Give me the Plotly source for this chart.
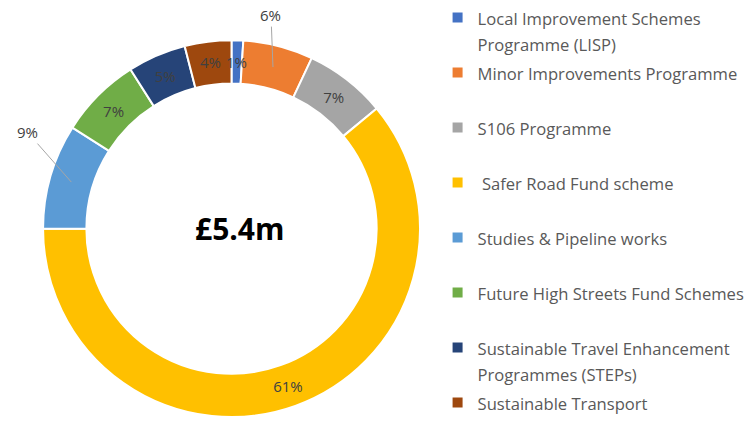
import math
import plotly.graph_objects as go

# Programme budget split (share of £5.4m, %)
categories = [
    "Local Improvement Schemes<br>Programme (LISP)",
    "Minor Improvements Programme",
    "S106 Programme",
    " Safer Road Fund scheme",
    "Studies & Pipeline works",
    "Future High Streets Fund Schemes",
    "Sustainable Travel Enhancement<br>Programmes (STEPs)",
    "Sustainable Transport",
]
shares = [1, 6, 7, 61, 9, 7, 5, 4]
colors = ["#4472C4", "#ED7D31", "#A5A5A5", "#FFC000",
          "#5B9BD5", "#70AD47", "#264478", "#9E480E"]
# slices whose value label sits outside the ring on a leader line (text offset, px)
callouts = {1: (-2, -52), 4: (-44, -50)}
# slices too thin for plotly's inside text: label placed at the ring's mid radius
free_labels = {0}
total_label = "£5.4m"

W, H = 748, 423
dom_x = [0.056, 0.563]
dom_y = [0.014, 0.905]
hole = 0.77
label_font = dict(family="Open Sans", size=15, color="#404040")

# every legend entry spans two lines so the entries are evenly spaced
legend_names = [
    "<span style='font-size:16.6px'>" + (c if "<br>" in c else c + "<br>&nbsp;") + "</span>"
    for c in categories
]

fig = go.Figure(go.Pie(
    labels=legend_names,
    values=shares,
    sort=False,
    direction="clockwise",
    rotation=0,
    hole=hole,
    marker=dict(colors=colors, line=dict(color="white", width=2)),
    texttemplate="%{value}%",
    textposition=["none" if (i in callouts or i in free_labels) else "inside"
                  for i in range(len(shares))],
    insidetextorientation="horizontal",
    textfont=label_font,
    domain=dict(x=dom_x, y=dom_y),
    hoverinfo="label+percent",
))

# ring geometry in pixels (paper == full page, zero margins)
cx = (dom_x[0] + dom_x[1]) / 2 * W
cy = (1 - (dom_y[0] + dom_y[1]) / 2) * H
r_out = min((dom_x[1] - dom_x[0]) * W, (dom_y[1] - dom_y[0]) * H) / 2
r_mid = r_out * (1 + hole) / 2

total = sum(shares)
start = 0
for i, v in enumerate(shares):
    mid = (start + v / 2) / total * 2 * math.pi
    start += v
    px = cx + r_mid * math.sin(mid)
    py = cy - r_mid * math.cos(mid)
    if i in callouts:
        ax, ay = callouts[i]
        fig.add_annotation(
            x=px / W, y=1 - py / H, xref="paper", yref="paper",
            text=f"{v}%", showarrow=True, arrowhead=0, arrowwidth=1,
            arrowcolor="#A6A6A6", ax=ax, ay=ay, font=label_font,
        )
    elif i in free_labels:
        fig.add_annotation(
            x=px / W, y=1 - py / H, xref="paper", yref="paper",
            xanchor="center", yanchor="middle",
            text=f"{v}%", showarrow=False, font=label_font,
        )

fig.add_annotation(
    text=f"<b>{total_label}</b>", x=0.320, y=0.46, xref="paper", yref="paper",
    xanchor="center", yanchor="middle", showarrow=False,
    font=dict(family="Open Sans", size=30, color="#000000"),
)

fig.update_layout(
    width=W, height=H,
    margin=dict(l=0, r=0, t=0, b=0, autoexpand=False),
    paper_bgcolor="white",
    uniformtext=dict(minsize=15, mode="show"),
    legend=dict(
        x=0.585, y=1.005, xanchor="left", yanchor="top",
        valign="top", maxheight=H,
        font=dict(family="Open Sans", size=20, color="#595959"),
        itemwidth=30,
    ),
)

fig.write_html("out.html")
